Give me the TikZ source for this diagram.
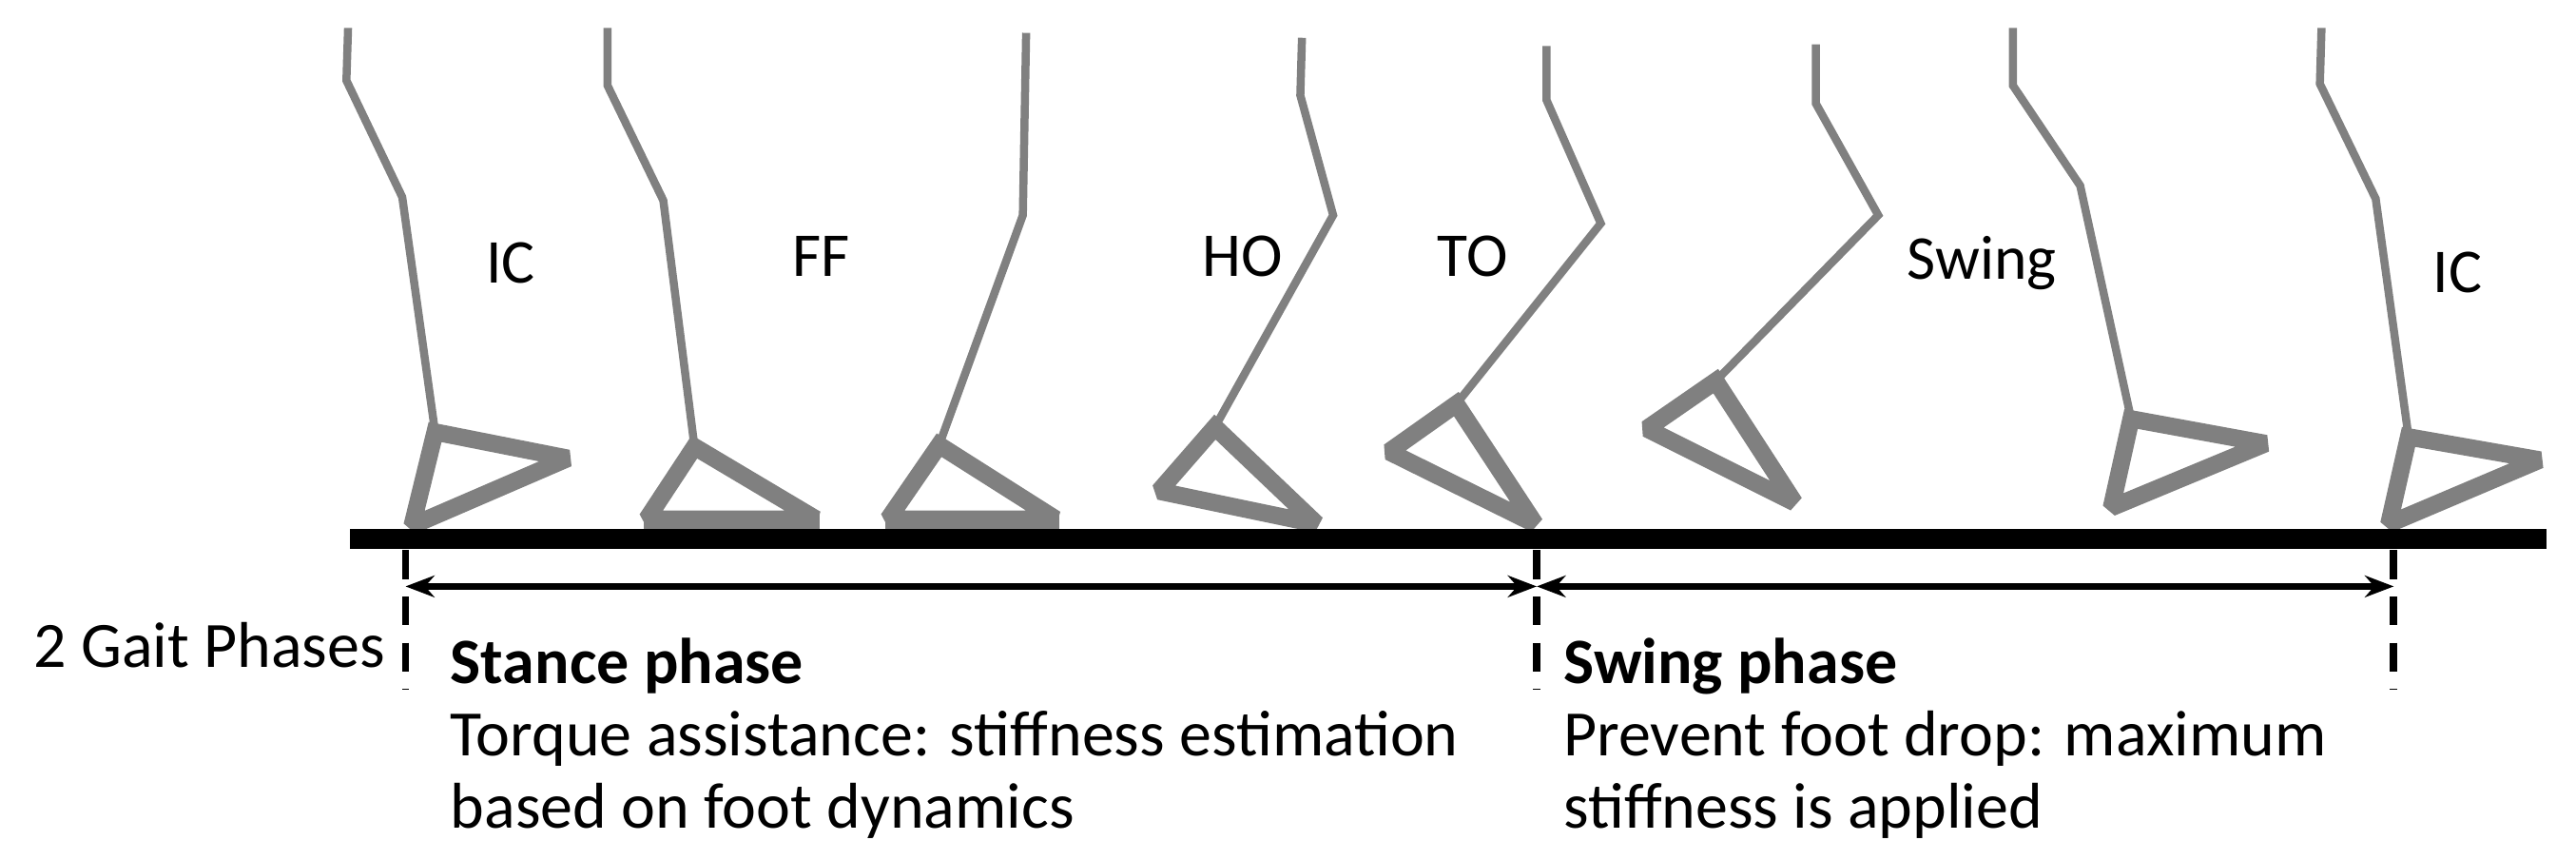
\documentclass[tikz,border=0pt]{standalone}
\usepackage{fontspec}
\setmainfont{Carlito}
\usetikzlibrary{arrows.meta}
\definecolor{lg}{RGB}{128,128,128}
\begin{document}
\begin{tikzpicture}[x=0.01cm,y=-0.01cm,
  leg/.style={draw=lg,line width=1.4pt,line join=miter},
  foot/.style={draw=lg,line width=3pt,line join=miter,miter limit=1.6},
  lbl/.style={font=\fontsize{10.8}{12}\selectfont},
  txt/.style={font=\fontsize{11.2}{12.5}\selectfont,anchor=west,align=left},
  phasedash/.style={line width=1.3pt,dash pattern=on 5pt off 3pt},
  dim/.style={line width=1.1pt,{Stealth[length=5pt]}-{Stealth[length=5pt]}}]
\useasboundingbox (0,0) rectangle (1569,523);
% legs
\draw[leg] (212,17)--(211,49)--(245,120)--(265,263);
\draw[foot] (265,263)--(346,279)--(251,320)--cycle;
\draw[leg] (370,17)--(370,52)--(404,122)--(423,272);
\draw[foot] (423,272)--(497,316)--(394,316)--cycle;
\fill[lg] (392,312) rectangle (499,322);
\draw[leg] (625,20)--(623,131)--(572,271);
\draw[foot] (572,271)--(643,316)--(541,316)--cycle;
\fill[lg] (539,312) rectangle (645,322);
\draw[leg] (793,23)--(792,58)--(812,131)--(740,260);
\draw[foot] (740,260)--(802,319)--(706,299)--cycle;
\draw[leg] (942,28)--(942,61)--(975,136)--(887,246);
\draw[foot] (887,246)--(935,319)--(846,275)--cycle;
\draw[leg] (1106,27)--(1106,63)--(1144,131)--(1045,232);
\draw[foot] (1045,232)--(1093,306)--(1003,261)--cycle;
\draw[leg] (1226,17)--(1226,52)--(1267,113)--(1298,255);
\draw[foot] (1298,255)--(1380,270)--(1286,309)--cycle;
\draw[leg] (1414,17)--(1413,51)--(1447,121)--(1467,266);
\draw[foot] (1467,266)--(1547,280)--(1455,319)--cycle;
% ground
\fill[black] (213,322) rectangle (1551,334);
% labels
\node[lbl] (ic1) at (311,160) {IC};
\node[lbl] (ff) at (500,156) {FF};
\node[lbl] (ho) at (757,156) {HO};
\node[lbl] (to) at (897,156) {TO};
\node[lbl] (sw) at (1207,160) {Swing};
\node[lbl] (ic2) at (1497,166) {IC};
% phase markers
\coordinate (a0) at (247,335); \coordinate (a1) at (247,420);
\coordinate (b0) at (936,335); \coordinate (b1) at (936,420);
\coordinate (c0) at (1458,335); \coordinate (c1) at (1458,420);
\draw[phasedash] (a0)--(a1); \draw[phasedash] (b0)--(b1); \draw[phasedash] (c0)--(c1);
\coordinate (sa) at (247,357); \coordinate (sb) at (936,357); \coordinate (sc) at (1458,357);
\draw[dim] (sa)--(sb);
\draw[dim] (sb)--(sc);
\node[txt] (gp) at (8,393) {2 Gait Phases};
\node[txt,anchor=north west] (st) at (262,376) {\textbf{Stance phase}\\Torque assistance: stiffness estimation\\based on foot dynamics};
\node[txt,anchor=north west] (swp) at (940,376) {\textbf{Swing phase}\\Prevent foot drop: maximum\\stiffness is applied};
\end{tikzpicture}
\end{document}
